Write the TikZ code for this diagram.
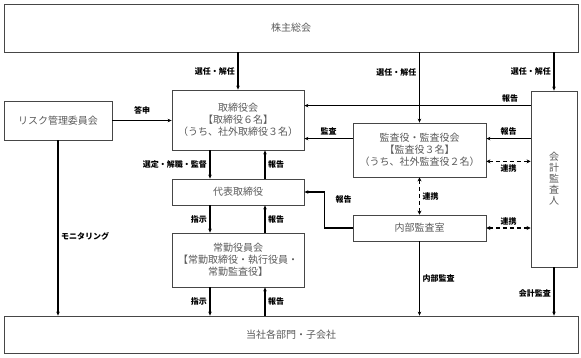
\documentclass[tikz,border=0pt]{standalone}
\usepackage{fontspec}
\setmainfont{Noto Sans CJK JP}
\usepackage{tikz}
\usetikzlibrary{arrows.meta, positioning, calc}
\definecolor{boxgray}{RGB}{70, 70, 70}
\definecolor{textgray}{RGB}{90, 90, 90}

\begin{document}
\begin{tikzpicture}[
    x=1pt, y=-1pt,
    box/.style={draw=boxgray, line width=0.8pt, rectangle, inner sep=0pt, align=center,
        text=textgray, font=\fontsize{10}{12}\selectfont},
    lbl/.style={font=\fontsize{8}{9}\selectfont\bfseries, inner sep=2.5pt},
    arrow/.style={-{Stealth[length=4pt, width=3.5pt]}, line width=1.2pt},
    link/.style={{Stealth[length=4pt, width=4pt]}-{Stealth[length=4pt, width=4pt]}, line width=1.2pt, dash pattern=on 4pt off 3pt}
]
\useasboundingbox (0,0) rectangle (581,358);

% Top and bottom
\node[box, minimum width=574pt, minimum height=48pt] (soukai) at (291,28) {株主総会};
\node[box, minimum width=574pt, minimum height=37pt] (bumon) at (291,334.5) {当社各部門・子会社};

% Left column
\node[box, minimum width=108pt, minimum height=39pt] (risk) at (58,120.5) {リスク管理委員会};
\node[box, minimum width=132pt, minimum height=60pt] (board) at (238,120) {取締役会\\【取締役６名】\\（うち、社外取締役３名）};
\node[box, minimum width=132pt, minimum height=26pt] (ceo) at (238,192) {代表取締役};
\node[box, minimum width=132pt, minimum height=54pt] (jokin) at (238,260) {常勤役員会\\【常勤取締役・執行役員・\\常勤監査役】};

% Audit side
\node[box, minimum width=133pt, minimum height=54pt] (kansa) at (419.5,150) {監査役・監査役会\\【監査役３名】\\（うち、社外監査役２名）};
\node[box, minimum width=133pt, minimum height=26pt] (naibu) at (419.5,228) {内部監査室};
\node[box, minimum width=46pt, minimum height=176pt, font=\fontsize{10}{11}\selectfont] (auditor) at (554,179) {会\\計\\監\\査\\人};

% Election
\draw[arrow] (board.north |- soukai.south) -- node[lbl, left] {選任・解任} (board.north);
\draw[arrow] (kansa.north |- soukai.south) -- node[lbl, left, pos=0.28] {選任・解任} (kansa.north);
\draw[arrow] (auditor.north |- soukai.south) -- node[lbl, left] {選任・解任} (auditor.north);

% Reports to board
\draw[arrow] (risk.east) -- node[lbl, above=3pt] {答申} (risk.east -| board.west);
\coordinate (rep1) at ([yshift=-16pt]board.north east);
\draw[arrow] (rep1 -| auditor.west) -- node[lbl, above, pos=0.09] {報告} (rep1);
\coordinate (rep2) at ([yshift=-16pt]kansa.north east);
\draw[arrow] (rep2 -| auditor.west) -- node[lbl, above] {報告} (rep2);
\draw[arrow] (rep2 -| kansa.west) -- node[lbl, above] {監査} (rep2 -| board.east);

% Cooperation
\coordinate (co1) at ([yshift=16pt]kansa.south east);
\draw[link] (co1) -- node[lbl, below] {連携} (co1 -| auditor.west);
\draw[link] (kansa.south) -- node[lbl, right] {連携} (naibu.north);
\draw[link] (naibu.east) -- node[lbl, above] {連携} (naibu.east -| auditor.west);

% Executive chain
\draw[arrow] ([xshift=-28pt]board.south) -- node[lbl, left] {選定・解職・監督} ([xshift=-28pt]board.south |- ceo.north);
\draw[arrow] ([xshift=27pt]board.south |- ceo.north) -- node[lbl, right] {報告} ([xshift=27pt]board.south);
\draw[arrow] ([xshift=-28pt]ceo.south) -- node[lbl, left] {指示} ([xshift=-28pt]ceo.south |- jokin.north);
\draw[arrow] ([xshift=27pt]ceo.south |- jokin.north) -- node[lbl, right] {報告} ([xshift=27pt]ceo.south);
\draw[arrow] ([xshift=-28pt]jokin.south) -- node[lbl, left] {指示} ([xshift=-28pt]jokin.south |- bumon.north);
\draw[arrow] ([xshift=27pt]jokin.south |- bumon.north) -- node[lbl, right] {報告} ([xshift=27pt]jokin.south);
\draw[arrow] (naibu.west) -- ++(-28,0) |- node[lbl, right=8pt, pos=0.39] {報告} (ceo.east);

% Down to departments
\draw[arrow] (risk.south) -- node[lbl, right, pos=0.55] {モニタリング} (risk.south |- bumon.north);
\draw[arrow] (naibu.south) -- node[lbl, right] {内部監査} (naibu.south |- bumon.north);
\draw[arrow] (auditor.south) -- node[lbl, left, pos=0.55] {会計監査} (auditor.south |- bumon.north);

\end{tikzpicture}
\end{document}
